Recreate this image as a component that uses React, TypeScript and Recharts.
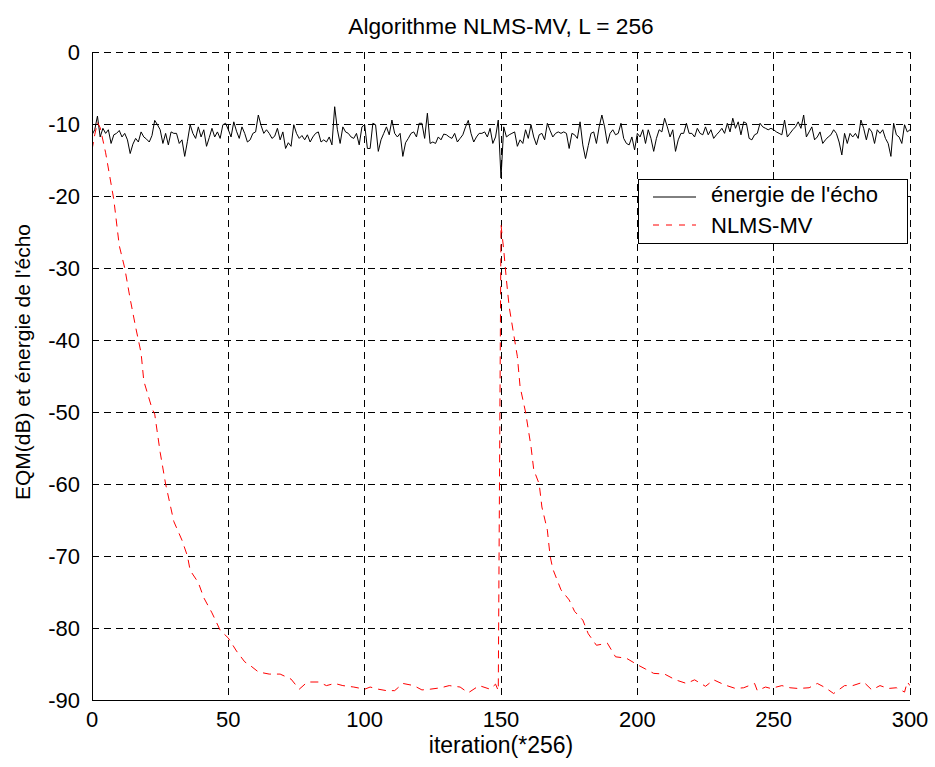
import { LineChart, Line, XAxis, YAxis, CartesianGrid, Legend, Label } from "recharts";

const FONT = '"Liberation Sans", Arial, Helvetica, sans-serif';

const ITER_TICKS = [0, 50, 100, 150, 200, 250, 300];
const DB_TICKS = [-90, -80, -70, -60, -50, -40, -30, -20, -10, 0];

// énergie de l'écho, one value per iteration (0..300)
const ECHO_DB = [
  -11.5, -10.8, -8.9, -11.8, -10.6, -11.3, -10.8, -12.7, -11.5, -11.3,
  -10.9, -11.8, -11.3, -12.2, -14.1, -12.8, -12.0, -12.5, -11.1, -11.8,
  -12.1, -12.5, -11.6, -9.5, -10.1, -10.8, -12.7, -11.3, -12.9, -11.1,
  -11.3, -11.3, -12.7, -12.2, -14.5, -12.4, -10.1, -11.3, -12.0, -10.4,
  -11.8, -10.8, -13.1, -11.9, -10.6, -11.8, -11.1, -12.0, -10.1, -9.9,
  -10.8, -11.8, -9.7, -11.0, -12.0, -10.4, -11.3, -12.5, -12.2, -11.3,
  -11.1, -8.75, -10.2, -11.3, -10.8, -11.3, -12.0, -11.7, -10.6, -12.2,
  -11.1, -13.4, -12.6,
  -13.1, -10.1, -11.3, -12.0, -11.6, -12.2, -11.5, -12.5, -11.8, -11.3,
  -11.1, -12.5, -12.2, -12.5, -11.8, -12.9, -7.6, -10.8, -12.7, -10.4,
  -11.1, -11.3, -11.8, -12.0, -11.3, -12.9, -10.4, -10.1, -13.4, -13.4,
  -9.9, -10.1, -13.8, -12.2, -11.3, -10.4, -11.5, -9.45, -11.3, -11.8,
  -11.3, -14.5, -12.6, -12.0, -11.3, -11.1, -11.8, -9.9, -9.9, -12.0,
  -8.5, -12.7, -12.5, -12.7, -11.8, -12.2, -11.4, -11.5, -11.8, -12.0,
  -11.3, -12.5, -12.0, -11.5, -10.4, -9.5, -11.3, -12.5, -11.8, -11.3,
  -11.3, -11.1, -11.8, -10.6,
  -12.7, -11.8, -9.45, -17.5, -10.4, -11.8, -11.5, -11.3, -11.1, -13.1,
  -12.2, -12.7, -10.8, -12.0, -10.1, -11.8, -12.9, -11.5, -11.3, -12.2,
  -9.9, -10.9, -11.8, -11.3, -11.1, -11.3, -11.1, -11.3, -13.4, -11.3,
  -11.5, -12.0, -9.7, -12.9, -14.8, -13.0, -11.3, -11.1, -12.7, -10.4,
  -8.75, -10.4, -12.7, -11.3, -10.8, -11.5, -11.3, -9.9, -12.0, -12.7,
  -12.9, -11.8, -13.6, -11.3, -11.8, -10.8, -12.7, -10.8, -12.0, -13.8,
  -12.0, -10.8, -11.1, -9.2, -10.4, -11.8, -10.8, -13.8, -12.2, -11.3,
  -11.3, -9.9, -11.3, -11.3, -11.8, -10.6, -11.3,
  -11.5, -10.4, -11.5, -10.8, -12.0, -11.5, -11.1, -10.6, -11.3, -9.9,
  -11.1, -9.2, -10.6, -9.7, -11.5, -9.7, -9.9, -12.0, -12.2, -11.5,
  -11.3, -9.9, -10.4, -10.6, -10.8, -10.6, -10.8, -11.1, -11.3, -11.5,
  -9.45, -11.8, -11.3, -10.8, -10.4, -9.7, -10.6, -8.75, -11.8, -11.1,
  -10.4, -12.2, -11.8, -11.1, -12.7, -12.2, -11.8, -11.5, -10.8, -11.3,
  -12.5, -14.3, -11.3, -12.7, -11.3, -11.8, -11.3, -12.0, -9.45, -10.6,
  -12.2, -10.6, -11.1, -12.7, -10.8, -11.3, -10.8, -12.0, -12.7, -14.5,
  -9.9, -11.5, -11.8, -12.7, -10.1, -11.1, -10.8,
];

// NLMS-MV error curve, read point by point
const NLMS_ITER = [
  0, 1, 2, 3, 5, 8, 10, 12, 14, 16, 17, 18, 19, 22, 23, 25, 27, 30, 33, 35,
  36, 39, 41, 44, 47, 50, 53, 56, 58, 61, 65, 69, 73, 76, 79, 83, 86, 89, 92, 96,
  100, 102, 105, 108, 111, 114, 118, 121, 124, 128, 131, 135, 138, 142, 146, 148, 149,
  150, 151, 152, 153, 155, 156, 157, 159, 161, 162, 164, 165, 167, 168, 169, 172, 175,
  177, 180, 182, 185, 189, 192, 196, 200, 203, 206, 210, 214, 218, 221, 225, 228, 232,
  236, 239, 243, 244, 247, 249, 253, 256, 259, 263, 266, 269, 272, 276, 279, 283, 286,
  289, 292, 295, 298, 299, 300,
];
const NLMS_DB = [
  -13.6, -11.5, -9.8, -10.5, -14, -20.5, -26.9, -30, -34.3, -38.2, -40, -41.8, -45.7, -49.5, -50.3, -55.6, -60, -65.2, -67.8, -70,
  -72, -73.7, -75.8, -77.9, -80.3, -81.4, -83.2, -84.7, -85.2, -86.1, -86.4, -86.4, -87.1, -88.5, -87.5, -87.5, -88.0, -87.7, -88.0, -88.2,
  -88.5, -88.2, -88.5, -88.7, -88.7, -87.7, -88.0, -88.6, -88.5, -88.3, -88.0, -88.2, -89.0, -88.0, -88.5, -87.8, -88.7,
  -24, -27.5, -31.7, -35.4, -40, -42.3, -46.5, -50, -54.8, -58, -60, -63.2, -66.4, -70, -71.8, -74.7, -76.1,
  -77.7, -78.9, -80.8, -82.4, -82.1, -84, -84.2, -85.1, -85.7, -86.3, -86.4, -87.2, -87.7, -87.2, -88.1, -87.2, -87.9,
  -88.4, -88.3, -87.7, -88.7, -88.2, -88.4, -88.0, -88.3, -88.4, -88.3, -87.7, -88.3, -89.1, -88.0, -88.0, -87.5, -88.6,
  -88.0, -88.4, -88.3, -88.9, -87.5, -88.0,
];

const echoData = ECHO_DB.map((db, i) => ({ iter: i, db }));
const nlmsData = NLMS_ITER.map((iter, i) => ({ iter, db: NLMS_DB[i] }));

const tickStyle = { fill: "#000", fontSize: 22, fontFamily: FONT };

function LegendBox() {
  return (
    <div
      style={{
        position: "relative",
        width: 268,
        height: 63,
        border: "1px solid #000",
        background: "#fff",
        fontFamily: FONT,
        fontSize: 22,
        color: "#000",
      }}
    >
      <svg width={60} height={63} style={{ position: "absolute", left: 0, top: 0 }}>
        <line x1={14} x2={57} y1={17} y2={17} stroke="#000" strokeWidth={1} />
        <line x1={14} x2={57} y1={45} y2={45} stroke="#ff0000" strokeWidth={1} strokeDasharray="6 7" />
      </svg>
      <div style={{ position: "absolute", left: 72, top: 3, lineHeight: "24px", whiteSpace: "nowrap" }}>
        énergie de l'écho
      </div>
      <div style={{ position: "absolute", left: 72, top: 34, lineHeight: "24px", whiteSpace: "nowrap" }}>
        NLMS-MV
      </div>
    </div>
  );
}

export default function App() {
  return (
    <div
      style={{
        position: "absolute",
        left: 0,
        top: 0,
        width: 935,
        height: 767,
        background: "#fff",
        fontFamily: FONT,
      }}
    >
      <div
        style={{
          position: "absolute",
          left: 92,
          top: 15,
          width: 818,
          textAlign: "center",
          fontSize: 22.7,
          lineHeight: "22px",
          color: "#000",
        }}
      >
        Algorithme NLMS-MV, L = 256
      </div>
      <LineChart width={935} height={767} margin={{ top: 52, right: 25, bottom: 0, left: 0 }}>
        <CartesianGrid stroke="#000" strokeDasharray="7 5" shapeRendering="crispEdges" />
        <XAxis
          dataKey="iter"
          type="number"
          domain={[0, 300]}
          ticks={ITER_TICKS}
          allowDataOverflow
          height={67}
          tickLine={false}
          tickSize={0}
          tickMargin={11}
          axisLine={{ stroke: "#000", shapeRendering: "crispEdges" }}
          tick={tickStyle}
        >
          <Label value="iteration(*256)" position="insideBottom" offset={14} fill="#000" fontSize={23} fontFamily={FONT} />
        </XAxis>
        <XAxis
          xAxisId="top"
          orientation="top"
          type="number"
          domain={[0, 300]}
          ticks={ITER_TICKS}
          height={0}
          tick={false}
          tickLine={false}
          axisLine={{ stroke: "#000", shapeRendering: "crispEdges" }}
        />
        <YAxis
          type="number"
          domain={[-90, 0]}
          ticks={DB_TICKS}
          allowDataOverflow
          width={92}
          tickLine={false}
          tickSize={0}
          tickMargin={12}
          axisLine={{ stroke: "#000", shapeRendering: "crispEdges" }}
          tick={tickStyle}
        >
          <Label
            content={() => (
              <text
                transform="translate(30,362) rotate(-90)"
                textAnchor="middle"
                fill="#000"
                fontSize={21}
                fontFamily={FONT}
              >
                EQM(dB) et énergie de l'écho
              </text>
            )}
          />
        </YAxis>
        <YAxis
          yAxisId="right"
          orientation="right"
          type="number"
          domain={[-90, 0]}
          ticks={DB_TICKS}
          width={0}
          tick={false}
          tickLine={false}
          axisLine={{ stroke: "#000", shapeRendering: "crispEdges" }}
        />
        <Legend
          layout="vertical"
          align="center"
          verticalAlign="middle"
          content={LegendBox}
          wrapperStyle={{ left: 638, top: 179, width: 270, height: 65 }}
        />
        <Line
          data={echoData}
          dataKey="db"
          type="linear"
          stroke="#000"
          strokeWidth={1}
          dot={false}
          isAnimationActive={false}
        />
        <Line
          data={nlmsData}
          dataKey="db"
          type="linear"
          stroke="#ff0000"
          strokeWidth={1}
          strokeDasharray="8 6"
          dot={false}
          isAnimationActive={false}
        />
      </LineChart>
    </div>
  );
}
